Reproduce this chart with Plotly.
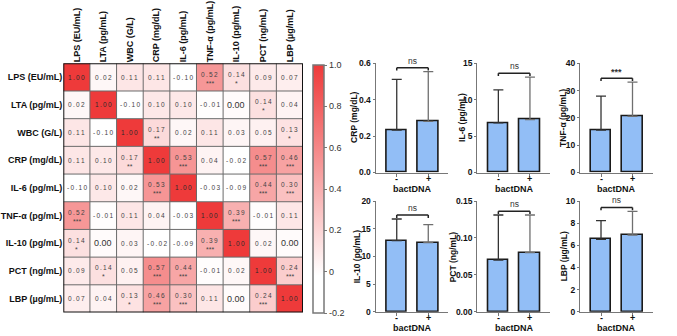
import plotly.graph_objects as go

# ---------------- data ----------------
labels = ["LPS (EU/mL)", "LTA (pg/mL)", "WBC (G/L)", "CRP (mg/dL)", "IL-6 (pg/mL)",
          "TNF-α (pg/mL)", "IL-10 (pg/mL)", "PCT (ng/mL)", "LBP (µg/mL)"]

corr = [
    [1.00, 0.02, 0.11, 0.11, -0.10, 0.52, 0.14, 0.09, 0.07],
    [0.02, 1.00, -0.10, 0.10, 0.10, -0.01, 0.00, 0.14, 0.04],
    [0.11, -0.10, 1.00, 0.17, 0.02, 0.11, 0.03, 0.05, 0.13],
    [0.11, 0.10, 0.17, 1.00, 0.53, 0.04, -0.02, 0.57, 0.46],
    [-0.10, 0.10, 0.02, 0.53, 1.00, -0.03, -0.09, 0.44, 0.30],
    [0.52, -0.01, 0.11, 0.04, -0.03, 1.00, 0.39, -0.01, 0.11],
    [0.14, 0.00, 0.03, -0.02, -0.09, 0.39, 1.00, 0.02, 0.00],
    [0.09, 0.14, 0.05, 0.57, 0.44, -0.01, 0.02, 1.00, 0.24],
    [0.07, 0.04, 0.13, 0.46, 0.30, 0.11, 0.00, 0.24, 1.00],
]

stars = [
    ["", "", "", "", "", "***", "*", "", ""],
    ["", "", "", "", "", "", "", "*", ""],
    ["", "", "", "**", "", "", "", "", "*"],
    ["", "", "**", "", "***", "", "", "***", "***"],
    ["", "", "", "***", "", "", "", "***", "***"],
    ["***", "", "", "", "", "", "***", "", ""],
    ["*", "", "", "", "", "***", "", "", ""],
    ["", "*", "", "***", "***", "", "", "", "***"],
    ["", "", "*", "***", "***", "", "", "***", ""],
]

cbar_vals = [-0.2, 0.0, 0.2, 0.4, 0.6, 0.8, 1.0]
cbar_text = ["-0.2", "0", "0.2", "0.4", "0.6", "0.8", "1.0"]

panel_titles = ["CRP (mg/dL)", "IL-6 (pg/mL)", "TNF-α (pg/mL)",
                "IL-10 (pg/mL)", "PCT (ng/mL)", "LBP (µg/mL)"]
groups = ["-", "+"]
group_title = "bactDNA"
means_neg = [0.233, 6.82, 15.5, 12.83, 0.070, 6.54]
means_pos = [0.281, 7.27, 20.6, 12.47, 0.080, 6.93]
sd_neg = [0.279, 4.54, 12.5, 3.92, 0.061, 1.68]
sd_pos = [0.273, 5.83, 12.5, 3.25, 0.051, 2.14]
y_max = [0.6, 15, 40, 20, 0.15, 10]
y_step = [0.2, 5, 10, 5, 0.05, 2]
y_fmt = [".1f", "d", "d", "d", ".2f", "d"]
sig = ["ns", "ns", "***", "ns", "ns", "ns"]

# ---------------- layout helpers ----------------
W, H = 677, 336
FONT = "Liberation Sans, Arial, sans-serif"


def px_x(a, b):
    return [a / W, b / W]


def px_y(top, bottom):
    return [1 - bottom / H, 1 - top / H]


fig = go.Figure()
n = len(labels)
idx = list(range(n))

# ---------------- heatmap ----------------
fig.add_trace(go.Heatmap(
    z=corr, x=idx, y=idx, zmin=-0.2, zmax=1.0,
    colorscale=[[0, "#ffffff"], [0.15, "#ffffff"], [1.0, "#ee3a3a"]],
    xaxis="x", yaxis="y", hoverinfo="skip",
    colorbar=dict(
        x=313 / W, xanchor="left", y=1 - 189 / H, yanchor="middle",
        lenmode="pixels", len=248, thicknessmode="pixels", thickness=11,
        outlinecolor="#777777", outlinewidth=1.5,
        tickmode="array", tickvals=cbar_vals, ticktext=cbar_text,
        ticks="outside", ticklen=3, tickcolor="#777777",
        tickfont=dict(family=FONT, size=9, color="#333333"),
        xpad=0, ypad=0,
    ),
))

annotations = []
shapes = []
for i in range(n):
    for j in range(n):
        v = corr[i][j]
        s = stars[i][j]
        txt = f"{v:.2f}"
        if txt == "-0.00":
            txt = "0.00"
        if txt == "0.00":
            annotations.append(dict(x=j, y=i, xref="x", yref="y", text=txt, showarrow=False,
                                    font=dict(family=FONT, size=9, color="#333333")))
            continue
        spaced = "\u2009".join(txt)
        col = "#2a2a2a" if v >= 0.9 else "#444444"
        if s:
            annotations.append(dict(x=j, y=i, xref="x", yref="y", text=spaced, showarrow=False,
                                    yshift=3, font=dict(family=FONT, size=6.5, color=col)))
            annotations.append(dict(x=j, y=i, xref="x", yref="y", text=s, showarrow=False,
                                    yshift=-6, font=dict(family=FONT, size=7, color=col)))
        else:
            annotations.append(dict(x=j, y=i, xref="x", yref="y", text=spaced, showarrow=False,
                                    font=dict(family=FONT, size=6.5, color=col)))

for k in range(1, n):
    shapes.append(dict(type="line", xref="x", yref="y", x0=k - 0.5, x1=k - 0.5, y0=-0.5, y1=n - 0.5,
                       line=dict(color="#6a6a6a", width=1)))
    shapes.append(dict(type="line", xref="x", yref="y", y0=k - 0.5, y1=k - 0.5, x0=-0.5, x1=n - 0.5,
                       line=dict(color="#6a6a6a", width=1)))
shapes.append(dict(type="rect", xref="x", yref="y", x0=-0.5, x1=n - 0.5, y0=-0.5, y1=n - 0.5,
                   line=dict(color="#111111", width=2)))

layout = dict(
    width=W, height=H, margin=dict(l=0, r=0, t=0, b=0, autoexpand=False),
    paper_bgcolor="white", plot_bgcolor="white", showlegend=False,
    font=dict(family=FONT, color="#111111"),
    xaxis=dict(domain=px_x(63.3, 303), range=[-0.5, n - 0.5], side="top",
               tickmode="array", tickvals=idx, ticktext=[f"<b>{t}</b>" for t in labels],
               tickangle=-90, automargin=False,
               tickfont=dict(family=FONT, size=9, color="#111111"), ticks="",
               showgrid=False, zeroline=False, showline=False, anchor="y", fixedrange=True),
    yaxis=dict(domain=px_y(63.3, 312.5), range=[n - 0.5, -0.5], automargin=False,
               tickmode="array", tickvals=idx, ticktext=[f"<b>{t}</b>" for t in labels],
               tickfont=dict(family=FONT, size=9, color="#111111"), ticks="",
               showgrid=False, zeroline=False, showline=False, anchor="x", fixedrange=True),
)

# ---------------- bar panels ----------------
col_px = [(375.7, 448.3), (477.3, 550.0), (580.0, 652.5)]
row_px = [(63.3, 172.5), (201.0, 311.7)]
ytitle_x = [354, 462, 563, 357, 453, 564]
bar_fill = "#92bef6"

for p in range(6):
    r, c = divmod(p, 3)
    ax = p + 2
    xa, ya = f"x{ax}", f"y{ax}"
    for g, (m, e, ecol) in enumerate([(means_neg[p], sd_neg[p], "#333333"),
                                      (means_pos[p], sd_pos[p], "#6f6f6f")]):
        fig.add_trace(go.Bar(
            x=[g], y=[m], width=0.66, xaxis=xa, yaxis=ya,
            marker=dict(color=bar_fill, line=dict(color="#1a1a1a", width=1.6)),
            error_y=dict(type="data", array=[e], arrayminus=[0], symmetric=False,
                         color=ecol, thickness=1.3, width=5),
            hoverinfo="skip",
        ))
    top = max(means_neg[p] + sd_neg[p], means_pos[p] + sd_pos[p])
    by = top + 0.035 * y_max[p]
    tick = 0.025 * y_max[p]
    shapes.append(dict(type="line", xref=xa, yref=ya, x0=0, x1=1, y0=by, y1=by,
                       line=dict(color="#222222", width=1.5)))
    for xx in (0, 1):
        shapes.append(dict(type="line", xref=xa, yref=ya, x0=xx, x1=xx, y0=by, y1=by - tick,
                           line=dict(color="#222222", width=1.5)))
    is_ns = sig[p] == "ns"
    annotations.append(dict(x=0.5, y=by, xref=xa, yref=ya, text=sig[p] if is_ns else f"<b>{sig[p]}</b>",
                            showarrow=False, yanchor="bottom", yshift=-1 if not is_ns else 0,
                            font=dict(family=FONT, size=8.5 if is_ns else 9, color="#333333")))

    nt = int(round(y_max[p] / y_step[p]))
    tvals = [y_step[p] * k for k in range(nt + 1)]
    if y_fmt[p] == "d":
        ttext = [f"<b>{int(round(t))}</b>" for t in tvals]
    else:
        ttext = [f"<b>{t:{y_fmt[p]}}</b>" for t in tvals]

    top_px, bot_px = row_px[r]
    for g, gl in enumerate(groups):
        annotations.append(dict(x=g, y=1 - (bot_px + 6) / H, xref=xa, yref="paper",
                                text=f"<b>{gl}</b>", showarrow=False, yanchor="middle",
                                font=dict(family=FONT, size=9, color="#111111")))
    annotations.append(dict(x=0.5, y=1 - (bot_px + 16) / H, xref=xa, yref="paper",
                            text=f"<b>{group_title}</b>", showarrow=False, yanchor="middle",
                            font=dict(family=FONT, size=9, color="#111111")))
    annotations.append(dict(x=ytitle_x[p] / W, y=1 - (top_px + bot_px) / 2 / H, xref="paper", yref="paper",
                            text=f"<b>{panel_titles[p]}</b>", showarrow=False, textangle=-90,
                            xanchor="center", yanchor="middle",
                            font=dict(family=FONT, size=8.5, color="#111111")))

    layout[f"xaxis{ax}"] = dict(
        domain=px_x(*col_px[c]), range=[-0.667, 1.635], anchor=ya, automargin=False,
        tickmode="array", tickvals=[0, 1], showticklabels=False,
        ticks="outside", ticklen=3, tickcolor="#777777", tickwidth=1.2,
        showline=True, linecolor="#777777", linewidth=1.3,
        showgrid=False, zeroline=False, fixedrange=True,
    )
    layout[f"yaxis{ax}"] = dict(
        domain=px_y(*row_px[r]), range=[0, y_max[p]], anchor=xa, automargin=False,
        tickmode="array", tickvals=tvals, ticktext=ttext,
        ticks="outside", ticklen=2, tickcolor="#777777", tickwidth=1.2,
        showline=True, linecolor="#777777", linewidth=1.3,
        showgrid=False, zeroline=False, fixedrange=True,
        tickfont=dict(family=FONT, size=8.5, color="#111111"),
    )

layout["annotations"] = annotations
layout["shapes"] = shapes
layout["bargap"] = 0
fig.update_layout(**layout)

fig.write_html("out.html", config={"displayModeBar": False},
               post_script="document.body.style.margin='0';document.body.style.padding='0';")
